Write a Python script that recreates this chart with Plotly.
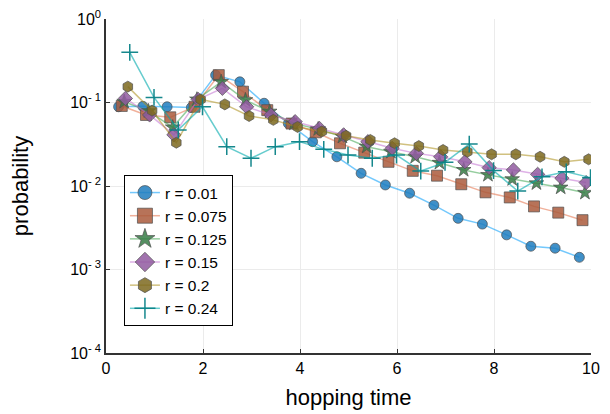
import plotly.graph_objects as go

# hopping-time bin positions for each r
t_001 = [0.26, 0.76, 1.26, 1.76, 2.26, 2.76, 3.26, 3.76, 4.26, 4.76,
         5.26, 5.76, 6.26, 6.76, 7.26, 7.76, 8.26, 8.76, 9.26, 9.76]
t_0075 = [0.325, 0.825, 1.325, 1.825, 2.325, 2.825, 3.325, 3.825, 4.325, 4.825,
          5.325, 5.825, 6.325, 6.825, 7.325, 7.825, 8.325, 8.825, 9.325, 9.825]
t_0125 = [0.375, 0.875, 1.375, 1.875, 2.375, 2.875, 3.375, 3.875, 4.375, 4.875,
          5.375, 5.875, 6.375, 6.875, 7.375, 7.875, 8.375, 8.875, 9.375, 9.875]
t_015 = [0.4, 0.9, 1.4, 1.9, 2.4, 2.9, 3.4, 3.9, 4.4, 4.9,
         5.4, 5.9, 6.4, 6.9, 7.4, 7.9, 8.4, 8.9, 9.4, 9.9]
t_02 = [0.45, 0.95, 1.45, 1.95, 2.45, 2.95, 3.45, 3.95, 4.45, 4.95,
        5.45, 5.95, 6.45, 6.95, 7.45, 7.95, 8.45, 8.95, 9.45, 9.95]
t_024 = [0.49, 0.99, 1.49, 1.99, 2.49, 2.99, 3.49, 3.99, 4.49, 4.99,
         5.49, 5.99, 6.49, 6.99, 7.49, 7.99, 8.49, 8.99, 9.49, 9.99]

p_001 = [0.089, 0.090, 0.089, 0.087, 0.213, 0.177, 0.098, 0.056, 0.034, 0.0224,
         0.0142, 0.0103, 0.0082, 0.0059, 0.0041, 0.0035, 0.0026, 0.0019, 0.0018, 0.0014]
p_0075 = [0.091, 0.071, 0.0665, 0.089, 0.213, 0.135, 0.081, 0.056, 0.044, 0.0325,
          0.0251, 0.0195, 0.0152, 0.0133, 0.0105, 0.0084, 0.0073, 0.0057, 0.0048, 0.0039]
p_0125 = [0.102, 0.079, 0.0505, 0.109, 0.177, 0.107, 0.078, 0.056, 0.048, 0.039,
          0.0296, 0.0257, 0.0224, 0.019, 0.0156, 0.0136, 0.0121, 0.0108, 0.0096, 0.0083]
p_015 = [0.112, 0.071, 0.041, 0.109, 0.148, 0.089, 0.071, 0.059, 0.049, 0.041,
         0.034, 0.0283, 0.0246, 0.0224, 0.0195, 0.0166, 0.0156, 0.0138, 0.0124, 0.011]
p_02 = [0.155, 0.080, 0.033, 0.109, 0.095, 0.069, 0.062, 0.051, 0.045, 0.040,
        0.0356, 0.0325, 0.0301, 0.027, 0.0257, 0.024, 0.024, 0.0224, 0.0195, 0.0209]
p_024 = [0.399, 0.115, 0.047, 0.089, 0.0296, 0.0215, 0.0296, 0.034, 0.0275, 0.0235,
         0.0215, 0.0235, 0.0151, 0.0192, 0.0318, 0.0153, 0.0087, 0.0129, 0.0148, 0.0126]

labels = ["r = 0.01", "r = 0.075", "r = 0.125", "r = 0.15", "r = 0.2", "r = 0.24"]
xs = [t_001, t_0075, t_0125, t_015, t_02, t_024]
ys = [p_001, p_0075, p_0125, p_015, p_02, p_024]

y_tickvals = [1e-4, 1e-3, 1e-2, 1e-1, 1]
y_ticktext = ["10<sup>- 4</sup>", "10<sup>- 3</sup>", "10<sup>- 2</sup>", "10<sup>- 1</sup>", "10<sup>0</sup>"]
x_tickvals = [0, 2, 4, 6, 8, 10]

line_colors = ["rgba(0,154,250,0.55)", "rgba(227,111,71,0.55)", "rgba(62,164,78,0.55)",
               "rgba(195,113,210,0.55)", "rgba(172,142,24,0.55)", "rgba(0,170,174,0.6)"]
marker_colors = ["rgba(30,125,190,0.85)", "rgba(170,90,60,0.85)", "rgba(55,125,70,0.85)",
                 "rgba(145,90,160,0.85)", "rgba(125,105,30,0.85)", "rgba(10,130,135,0.95)"]
symbols = ["circle", "square", "star", "diamond", "hexagon", "cross-thin"]
sizes = [10, 11, 11, 11, 11, 12]
leg_sizes = [14, 15, 15, 15, 15, 15]

fig = go.Figure()
for i in range(6):
    if symbols[i] == "cross-thin":
        mk = dict(symbol="cross-thin", size=sizes[i], color=marker_colors[i],
                  line=dict(color=marker_colors[i], width=1.5))
        mkl = dict(symbol="cross-thin", size=leg_sizes[i], color=marker_colors[i],
                   line=dict(color=marker_colors[i], width=1.5))
    else:
        mk = dict(symbol=symbols[i], size=sizes[i], color=marker_colors[i],
                  line=dict(color="rgba(80,80,80,0.7)", width=1))
        mkl = dict(symbol=symbols[i], size=leg_sizes[i], color=marker_colors[i],
                   line=dict(color="rgba(80,80,80,0.7)", width=1))
    fig.add_trace(go.Scatter(x=xs[i], y=ys[i], mode="lines+markers", name=labels[i],
                             line=dict(color=line_colors[i], width=1.5),
                             marker=mk, showlegend=False))
    fig.add_trace(go.Scatter(x=[None], y=[None], mode="lines+markers", name=labels[i],
                             line=dict(color=line_colors[i], width=1.5),
                             marker=mkl, showlegend=True))

fig.update_layout(
    width=602, height=406,
    margin=dict(l=98, r=19, t=11, b=61, autoexpand=False),
    paper_bgcolor="white", plot_bgcolor="white",
    font=dict(family="Liberation Sans, Arial, sans-serif", color="black"),
    showlegend=True,
    legend=dict(x=0.037, y=0.533, xanchor="left", yanchor="top",
                bgcolor="white", bordercolor="black", borderwidth=1,
                font=dict(size=15.5), tracegroupgap=0, itemsizing="trace"),
)
fig.update_xaxes(range=[0, 10.0001], tickvals=x_tickvals, showgrid=True, gridcolor="#ebebeb",
                 gridwidth=1, showline=True, linecolor="#333333", linewidth=1.5,
                 ticks="inside", ticklen=4, tickcolor="#333333", zeroline=False,
                 tickfont=dict(size=16), ticklabeloverflow="allow",
                 title=dict(text="hopping time", font=dict(size=22), standoff=14))
fig.update_yaxes(type="log", range=[-4, 0.0005], tickvals=y_tickvals, ticktext=y_ticktext,
                 showgrid=True, gridcolor="#ebebeb", gridwidth=1, showline=True,
                 linecolor="#333333", linewidth=1.5, ticks="inside", ticklen=4,
                 tickcolor="#333333", zeroline=False, tickfont=dict(size=16),
                 ticklabeloverflow="allow",
                 title=dict(text="probability", font=dict(size=22), standoff=40))

fig.write_html("out.html")
